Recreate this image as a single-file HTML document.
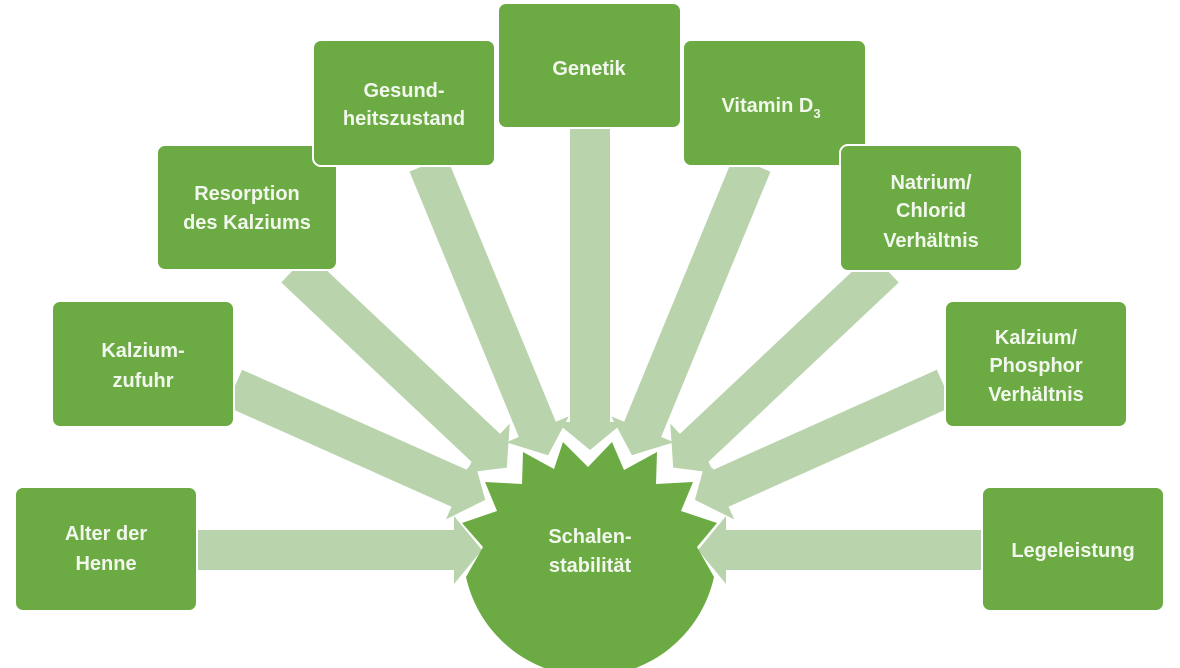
<!DOCTYPE html>
<html><head><meta charset="utf-8"><style>
html,body{margin:0;padding:0;background:#fff;overflow:hidden;}
svg{display:block;}
text{font-family:"Liberation Sans",sans-serif;font-weight:bold;font-size:20px;fill:#f2f7ee;text-anchor:middle;}
</style></head><body>
<svg width="1180" height="668" viewBox="0 0 1180 668" xmlns="http://www.w3.org/2000/svg">
<g fill="#b9d4ad">
<g transform="translate(197,550) rotate(0)"><polygon points="0,-20 257,-20 257,-34 285,0 257,34 257,20 0,20"/></g>
<g transform="translate(982,550) rotate(180)"><polygon points="0,-20 256,-20 256,-34 284,0 256,34 256,20 0,20"/></g>
<g transform="translate(234,388) rotate(24)"><polygon points="0,-20 247,-20 247,-34 275,0 247,34 247,20 0,20"/></g>
<g transform="translate(295,268) rotate(43.3)"><polygon points="0,-20 263,-20 263,-34 291,0 263,34 263,20 0,20"/></g>
<g transform="translate(428,164) rotate(67.6)"><polygon points="0,-20 287,-20 287,-34 315,0 287,34 287,20 0,20"/></g>
<g transform="translate(590,126) rotate(90)"><polygon points="0,-20 296,-20 296,-34 324,0 296,34 296,20 0,20"/></g>
<g transform="translate(752,164) rotate(112.4)"><polygon points="0,-20 287,-20 287,-34 315,0 287,34 287,20 0,20"/></g>
<g transform="translate(885,268) rotate(136.7)"><polygon points="0,-20 263,-20 263,-34 291,0 263,34 263,20 0,20"/></g>
<g transform="translate(945,388) rotate(155.9)"><polygon points="0,-20 246,-20 246,-34 274,0 246,34 246,20 0,20"/></g>
</g>
<path d="M466,577 L483,547 L462,523 L497,511 L485,482 L522,484 L523,452 L554,469 L563,442 L588,467 L612,442 L624,470 L657,452 L656,484 L693,482 L681,511 L717,523 L697,547 L714,577 A127,127 0 0 1 466,577 Z" fill="#6cab43"/>
<text x="590" y="543">Schalen-</text>
<text x="590" y="572">stabilität</text>
<g fill="#6cab43" stroke="#fff" stroke-width="2">
<rect x="15" y="487" width="182" height="124" rx="8"/>
<rect x="52" y="301" width="182" height="126" rx="8"/>
<rect x="157" y="145" width="180" height="125" rx="8"/>
<rect x="313" y="40" width="182" height="126" rx="8"/>
<rect x="498" y="3" width="183" height="125" rx="8"/>
<rect x="683" y="40" width="183" height="126" rx="8"/>
<rect x="840" y="145" width="182" height="126" rx="8"/>
<rect x="945" y="301" width="182" height="126" rx="8"/>
<rect x="982" y="487" width="182" height="124" rx="8"/>
</g>
<text x="106" y="540">Alter der</text>
<text x="106" y="570">Henne</text>
<text x="143" y="357">Kalzium-</text>
<text x="143" y="387">zufuhr</text>
<text x="247" y="200">Resorption</text>
<text x="247" y="229">des Kalziums</text>
<text x="404" y="97">Gesund-</text>
<text x="404" y="125">heitszustand</text>
<text x="589" y="75">Genetik</text>
<text x="771" y="112">Vitamin D<tspan font-size="13" dy="6">3</tspan></text>
<text x="931" y="189">Natrium/</text>
<text x="931" y="217">Chlorid</text>
<text x="931" y="247">Verhältnis</text>
<text x="1036" y="344">Kalzium/</text>
<text x="1036" y="372">Phosphor</text>
<text x="1036" y="401">Verhältnis</text>
<text x="1073" y="557">Legeleistung</text>
</svg>
</body></html>
